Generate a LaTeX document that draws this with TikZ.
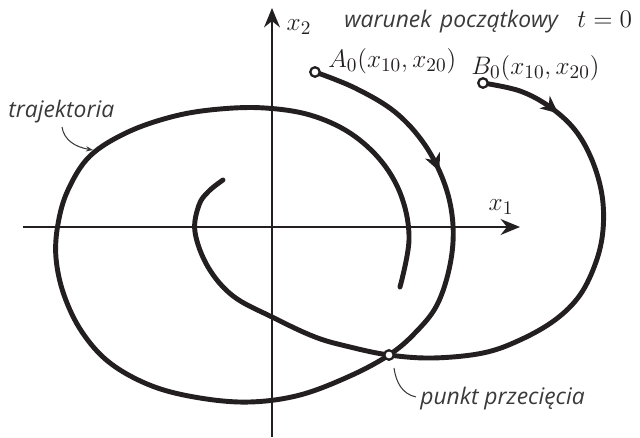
\documentclass[tikz,border=0pt]{standalone}
\usepackage{fontspec}
\newfontfamily\lab{Open Sans}
\usetikzlibrary{arrows.meta,decorations.markings}
\definecolor{ink}{HTML}{231F20}
\definecolor{txt}{HTML}{3A3A3A}
\tikzset{
  traj/.style={line width=2.8pt, ink, line cap=round},
  axis/.style={line width=1.3pt, ink},
  dot/.style={circle, draw=ink, fill=white, line width=1.3pt, minimum size=0.19cm, inner sep=0pt},
  note/.style={font=\lab\itshape\fontsize{13}{15}\selectfont, text=txt, inner sep=0pt},
  mth/.style={font=\fontsize{15.5}{18}\selectfont, text=ink, inner sep=0pt},
  pointer/.style={line width=0.6pt, txt},
  midarrow/.style={postaction={decorate}, decoration={markings, mark=at position #1 with {\arrow{Stealth[length=10pt,width=9pt,inset=3pt]}}}}
}
\begin{document}
\begin{tikzpicture}[x=0.02cm, y=-0.02cm]
\useasboundingbox (0,0) rectangle (640,438);
% axes
\draw[axis, -{Stealth[length=11pt,width=9pt]}] (23,227) -- (520,227);
\draw[axis, -{Stealth[length=11pt,width=9pt]}] (272,437) -- (272,8);
\node[mth] (x1) at (501,207) {$x_1$};
\node[mth] (x2) at (299,27) {$x_2$};
% trajectory A (spirals inward)
\draw[traj, midarrow=3.3cm] plot[smooth, tension=0.6] coordinates {
 (315,72) (355,88) (395,112) (425,145) (445,185) (453,225) (450,265) (437,305)
 (415,333) (389,355) (350,376) (300,395) (250,402) (200,398) (152,386) (110,363)
 (82,332) (64,295) (56,258) (58,224) (68,190) (90,156) (128,132) (175,116)
 (220,109) (265,108) (310,115) (350,133) (382,162) (402,198) (409,240) (400,287)};
% trajectory B
\draw[traj, midarrow=1.65cm] plot[smooth, tension=0.6] coordinates {
 (483,83) (520,91) (550,107) (575,130) (592,160) (602,195) (603,230) (596,262)
 (580,295) (555,320) (520,340) (483,353) (433,358) (389,355) (350,347) (315,337)
 (272,317) (233,296) (208,267) (195,232) (199,205) (209,191) (223,180)};
% points
\node[dot] (A0) at (315,72) {};
\node[dot] (B0) at (483,83) {};
\node[dot] (P) at (389,355) {};
\node[mth, anchor=base west] (A0l) at (328,68) {$A_0(x_{10},x_{20})$};
\node[mth, anchor=base west] (B0l) at (471,75) {$B_0(x_{10},x_{20})$};
\node[note, anchor=base west] (war) at (344,28) {warunek\hspace{0.12em} początkowy};
\node[mth, anchor=base west] (t0) at (577,28) {$t=0$};
\node[note, anchor=base west] (traj) at (8,118) {trajektoria};
\node[note, anchor=base west] (pp) at (420,405) {punkt przecięcia};
\coordinate (trajEnd) at (93,150);
\coordinate (ppEnd) at (394,368);
\draw[pointer, -{Stealth[length=4pt,width=3pt]}] (62,127) .. controls (64,140) and (75,147) .. (trajEnd);
\draw[pointer] (416,397) .. controls (402,394) and (396,382) .. (ppEnd);
\end{tikzpicture}
\end{document}
